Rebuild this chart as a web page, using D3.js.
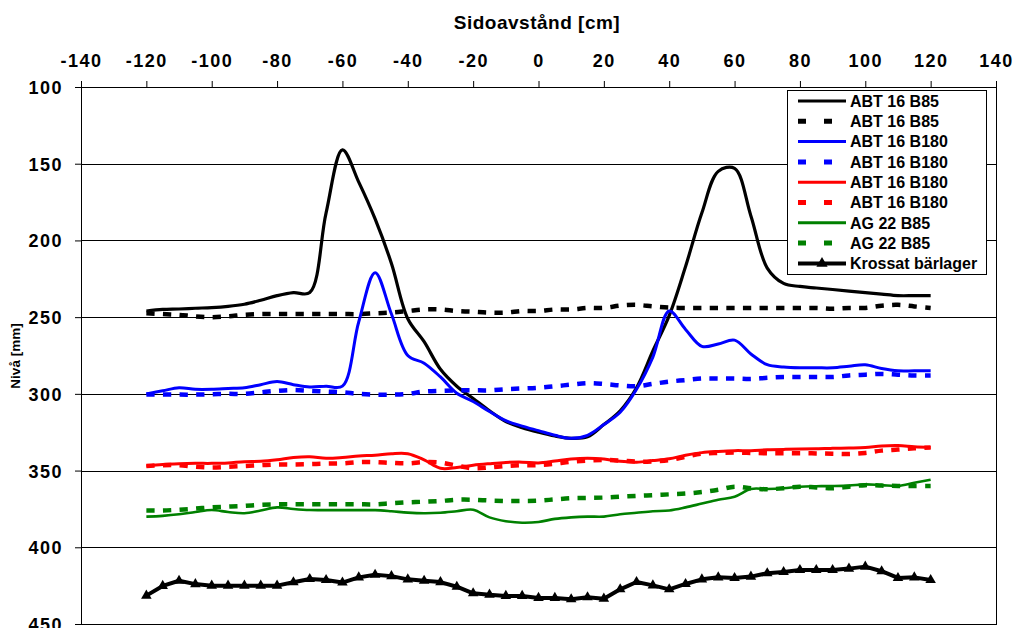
<!DOCTYPE html>
<html>
<head>
<meta charset="utf-8">
<script src="https://cdn.jsdelivr.net/npm/d3@7"></script>
<style>
  html, body { margin: 0; padding: 0; background: #fff; }
  svg { display: block; font-family: "Liberation Sans", Arial, sans-serif; }
</style>
</head>
<body>
<svg id="chart" width="1017" height="628"></svg>
<script>
// ---- data ----
const sideDistance = [-120,-115,-110,-105,-100,-95,-90,-85,-80,-75,-70,-65,-60,-55,-50,-45,-40,-35,-30,-25,-20,-15,-10,-5,0,5,10,15,20,25,30,35,40,45,50,55,60,65,70,75,80,85,90,95,100,105,110,115,120];

const abt16B85Solid = [246,245,244.7,244.2,243.8,243,241.6,239,236,234,234,182,141,162,186,215,251,266,284,295,303,311,318,322,325,327.5,329,328,320,311,296,272,249,217,182,155,153,184,218,228,230,231,232,233,234,235,236,236,236];
const abt16B85Dashed = [247.5,248,248.5,249.5,250,249.5,248.5,248,248,248,248,248,248,248,247.5,247,246,245,245,246,246.5,247,247,246,246,245,245,244,244,242.5,242,243,243.8,244,244,244,244,244,244,244,244,244,244.5,244,244,242.5,242,243,244];
const abt16B180BlueSolid = [300,298,296,297,297,296.5,296,294,292,294,295.5,295,295,253,221,248,275,280,289,299.6,305,311.5,317.5,321,324,327,329,327,320,312,297,276,246,258,269,267.5,265,274,281,282.5,283,283,283,282,281,283.5,285,285,285];
const abt16B180BlueDashed = [300.5,300.5,300.5,300.5,300.3,300,300,299,298,297.5,298,298.5,299,300,300.5,300.5,300,298.5,298,297.7,297.7,297.7,297,296.5,296,295,294,293,293.5,294.5,295,293.5,292,291,290,290,290,290.3,289.5,289,289,289,289,288,287.5,287,287.5,288,288];
const abt16B180RedSolid = [347,346,345.5,345.3,345.3,345,344.2,344,343,341.5,341,342,341.5,340.5,340,339,339,343,348.5,348,346.5,345.5,344.7,344.5,345,343.8,342.5,342,342.5,344,344.5,343.5,342.3,340,338.3,337.5,337,337,336.5,336.2,336,335.8,335.5,335.3,335,334,333.7,334.5,335];
const abt16B180RedDashed = [347,346.5,346.5,347.5,348,347.5,347,346.5,346,346,345.8,345.5,345.3,344.5,344.5,345,345.3,344.5,344.8,346.8,348.5,348,347,346.5,346.4,345.5,344.3,343.5,343.1,343.5,344.2,344,343.1,341,339,338.5,338.3,338.5,338.7,338.7,338.7,338.8,339,339.2,338.5,337,336.3,335.5,335];
const ag22B85Solid = [380,379.5,378.5,377,375.7,377,377.8,376,374,375,375.7,375.8,375.8,375.8,375.8,376.5,377.4,377.8,377.5,376.5,375.5,380.5,383,384,383.5,381.5,380.5,380,380,378.5,377.5,376.5,376,374,371.5,369,367,362,362,361.5,360.5,360.2,360.1,359.8,359,359.5,360,358,356];
const ag22B85Dashed = [376,376,375.5,374.8,374,373.5,373,372.3,372,372,372,372,372,372,372,371.3,370.7,370.3,369.8,369,369,369.5,369.8,369.8,369.6,368.8,368,367.8,367.6,367,366.5,366,365.5,365,364,362.5,360.5,361.5,362.2,361.5,360.5,361,361.5,360.5,359.5,359.8,360,360,360];
const krossatBarlager = [431.5,425.2,421.8,424,425,425,425,425,425,422.8,420.7,421.3,423,419.6,417.9,418.8,420.9,421.8,422.7,425.7,430,430.9,431.7,431.7,433,433,433.9,432.6,433.5,427.4,422.6,424.8,427.4,423.9,420.9,419.6,420,419.1,416.9,416.1,414.8,414.8,414.8,413.9,412.6,415.6,420,419.6,421.3];

const seriesNames = ["ABT 16 B85","ABT 16 B85","ABT 16 B180","ABT 16 B180","ABT 16 B180","ABT 16 B180","AG 22 B85","AG 22 B85","Krossat bärlager"];
const xTicks = [-140,-120,-100,-80,-60,-40,-20,0,20,40,60,80,100,120,140];
const yTicks = [100,150,200,250,300,350,400,450];
const xTitle = "Sidoavstånd [cm]";
const yTitle = "Nivå [mm]";

// ---- series table (styles) ----
const series = [
  {name: seriesNames[0], values: abt16B85Solid, color: "#000000", dashed: false, width: 3.2},
  {name: seriesNames[1], values: abt16B85Dashed, color: "#000000", dashed: true, width: 4.5},
  {name: seriesNames[2], values: abt16B180BlueSolid, color: "#0000FF", dashed: false, width: 3},
  {name: seriesNames[3], values: abt16B180BlueDashed, color: "#0000FF", dashed: true, width: 4.5},
  {name: seriesNames[4], values: abt16B180RedSolid, color: "#FF0000", dashed: false, width: 3},
  {name: seriesNames[5], values: abt16B180RedDashed, color: "#FF0000", dashed: true, width: 4.5},
  {name: seriesNames[6], values: ag22B85Solid, color: "#008000", dashed: false, width: 2.6},
  {name: seriesNames[7], values: ag22B85Dashed, color: "#008000", dashed: true, width: 4.5},
  {name: seriesNames[8], values: krossatBarlager, color: "#000000", dashed: false, width: 4, marker: true}
];

// ---- layout ----
const svg = d3.select("#chart");
const plotL = 81, plotR = 996, plotT = 87, plotB = 624;
const x = d3.scaleLinear().domain([-140, 140]).range([plotL, plotR]);
const y = d3.scaleLinear().domain([100, 450]).range([plotT, plotB]);
const fmt = d => String(d);

// grid lines
svg.append("g").selectAll("line").data(yTicks).join("line")
  .attr("x1", plotL).attr("x2", plotR)
  .attr("y1", d => Math.round(y(d)) + 0.5).attr("y2", d => Math.round(y(d)) + 0.5)
  .attr("stroke", "#000").attr("stroke-width", 1);

// plot border
svg.append("rect")
  .attr("x", plotL + 0.5).attr("y", plotT + 0.5)
  .attr("width", plotR - plotL).attr("height", plotB - plotT)
  .attr("fill", "none").attr("stroke", "#000").attr("stroke-width", 1);

// x axis (top)
const xAxis = d3.axisTop(x).tickValues(xTicks).tickSize(6).tickPadding(14).tickFormat(fmt);
const gx = svg.append("g").attr("transform", `translate(0,${plotT})`).call(xAxis);
gx.select(".domain").remove();
gx.selectAll(".tick line").attr("stroke", "#000");
gx.selectAll(".tick text")
  .attr("font-family", "'Liberation Sans', Arial, sans-serif")
  .attr("font-size", 18).attr("font-weight", "bold").attr("fill", "#000")
  .attr("letter-spacing", 1.5);

// y axis (left)
const yAxis = d3.axisLeft(y).tickValues(yTicks).tickSize(6).tickPadding(12).tickFormat(fmt);
const gy = svg.append("g").attr("transform", `translate(${plotL},0)`).call(yAxis);
gy.select(".domain").remove();
gy.selectAll(".tick line").attr("stroke", "#000");
gy.selectAll(".tick text")
  .attr("font-family", "'Liberation Sans', Arial, sans-serif")
  .attr("font-size", 18).attr("font-weight", "bold").attr("fill", "#000")
  .attr("letter-spacing", 1.5).attr("dy", "0.36em");

// titles
svg.append("text").attr("x", 537).attr("y", 29).attr("text-anchor", "middle")
  .attr("font-size", 19).attr("font-weight", "bold").attr("letter-spacing", 0.5)
  .text(xTitle);
svg.append("text").attr("transform", "translate(20,356) rotate(-90)").attr("text-anchor", "middle")
  .attr("font-size", 13.5).attr("font-weight", "bold")
  .text(yTitle);

// lines
const smooth = d3.line().x((d, i) => x(sideDistance[i])).y(d => y(d)).curve(d3.curveCatmullRom.alpha(0.5));
const straight = d3.line().x((d, i) => x(sideDistance[i])).y(d => y(d));

const gLines = svg.append("g");
series.forEach(s => {
  gLines.append("path")
    .attr("d", s.marker ? straight(s.values) : smooth(s.values))
    .attr("fill", "none")
    .attr("stroke", s.color)
    .attr("stroke-width", s.width)
    .attr("stroke-linejoin", "round")
    .attr("stroke-dasharray", s.dashed ? "8.3,8.3" : null);
  if (s.marker) {
    gLines.append("g").selectAll("path").data(s.values).join("path")
      .attr("transform", (d, i) => `translate(${x(sideDistance[i])},${y(d)})`)
      .attr("d", d3.symbol(d3.symbolTriangle, 48))
      .attr("fill", s.color);
  }
});

// legend
const lg = svg.append("g");
const lx = 787, ly = 90, lw = 199, lh = 184;
lg.append("rect").attr("x", lx + 0.5).attr("y", ly + 0.5).attr("width", lw).attr("height", lh)
  .attr("fill", "#fff").attr("stroke", "#000").attr("stroke-width", 1);
series.forEach((s, i) => {
  const cy = 101 + i * 20.3;
  lg.append("line").attr("x1", 798).attr("x2", 846).attr("y1", cy).attr("y2", cy)
    .attr("stroke", s.color)
    .attr("stroke-width", s.dashed ? 5 : (s.marker ? 4 : 3))
    .attr("stroke-dasharray", s.dashed ? "8,18" : null);
  if (s.marker) {
    lg.append("path").attr("transform", `translate(822,${cy})`)
      .attr("d", d3.symbol(d3.symbolTriangle, 55)).attr("fill", s.color);
  }
  lg.append("text").attr("x", 850).attr("y", cy).attr("dy", "0.36em")
    .attr("font-size", 16).attr("font-weight", "bold").attr("fill", "#000")
    .text(s.name);
});
</script>
</body>
</html>
